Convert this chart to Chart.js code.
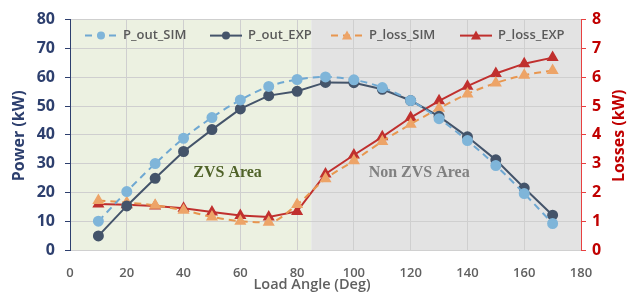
<!DOCTYPE html>
<html>
<head>
<meta charset="utf-8">
<script src="https://cdn.jsdelivr.net/npm/chart.js@4/dist/chart.umd.min.js"></script>
<style>
  html, body { margin: 0; padding: 0; background: #ffffff; }
  #wrap { width: 627px; height: 292px; position: relative; }
</style>
</head>
<body>
<div id="wrap"><canvas id="chart" width="627" height="292"></canvas></div>
<script>
// Load angle (deg)
const angles = [10, 20, 30, 40, 50, 60, 70, 80, 90, 100, 110, 120, 130, 140, 150, 160, 170];

// Power (kW), left axis
const pOutSim = [10, 20.3, 30, 38.8, 46, 52.1, 56.8, 59.2, 60.1, 59.1, 56.4, 51.9, 45.6, 38, 29.3, 19.6, 9.2];
const pOutExp = [4.9, 15.3, 24.9, 34.2, 41.8, 49, 53.6, 55.1, 58.2, 58.1, 55.8, 51.9, 46.4, 39.3, 31.3, 21.5, 12.1];

// Losses (kW), right axis
const pLossSim = [1.72, 1.65, 1.55, 1.38, 1.15, 1.0, 0.96, 1.58, 2.47, 3.1, 3.77, 4.37, 4.92, 5.42, 5.8, 6.07, 6.23];
const pLossExp = [1.6, 1.57, 1.53, 1.45, 1.32, 1.2, 1.15, 1.34, 2.64, 3.3, 3.93, 4.6, 5.18, 5.69, 6.13, 6.47, 6.68];

// ZVS boundary (deg)
const zvsLimit = 85;

const navy = "#2d3f6e";
const red = "#c00000";
const grey = "#606060";
const sans = "'Open Sans', sans-serif";

// shaded regions behind the grid + area labels
const regionPlugin = {
  id: "regions",
  beforeDraw(chart) {
    const { ctx, chartArea: a, scales } = chart;
    const xb = scales.x.getPixelForValue(zvsLimit);
    ctx.save();
    ctx.fillStyle = "#ecf1e1";
    ctx.fillRect(a.left, a.top, xb - a.left, a.bottom - a.top);
    ctx.fillStyle = "#e3e3e3";
    ctx.fillRect(xb, a.top, a.right - xb, a.bottom - a.top);
    ctx.restore();
  },
  afterDatasetsDraw(chart) {
    const { ctx, scales } = chart;
    const y = scales.y.getPixelForValue(26.8);
    ctx.save();
    ctx.font = "bold 16px 'Liberation Serif', 'DejaVu Serif', serif";
    ctx.textAlign = "center";
    ctx.textBaseline = "middle";
    ctx.fillStyle = "#4f6228";
    ctx.fillText("ZVS Area", scales.x.getPixelForValue(55.5), y);
    ctx.fillStyle = "#808080";
    ctx.fillText("Non ZVS Area", scales.x.getPixelForValue(123), y);
    ctx.restore();
  }
};

// axis titles: y titles read bottom-to-top, x title a bit left of centre
const axisTitlePlugin = {
  id: "axisTitles",
  afterDraw(chart) {
    const { ctx, chartArea: a } = chart;
    const cy = (a.top + a.bottom) / 2 + 1;
    ctx.save();
    ctx.font = "bold 16px " + sans;
    ctx.textAlign = "center";
    ctx.textBaseline = "middle";
    [[19, "Power (kW)", navy], [619, "Losses (kW)", red]].forEach(([x, t, c]) => {
      ctx.save();
      ctx.translate(x, cy);
      ctx.rotate(-Math.PI / 2);
      ctx.fillStyle = c;
      ctx.fillText(t, 0, 0);
      ctx.restore();
    });
    ctx.font = "600 14.5px " + sans;
    ctx.fillStyle = grey;
    ctx.fillText("Load Angle (Deg)", 312, 285);
    ctx.restore();
  }
};

// legend drawn inside the plot area
const legendPlugin = {
  id: "innerLegend",
  afterDraw(chart) {
    const { ctx, chartArea: a } = chart;
    const y = a.top + 16;
    const starts = [a.left + 15, a.left + 140, a.left + 261, a.left + 390];
    ctx.save();
    ctx.font = "600 13px " + sans;
    ctx.textBaseline = "middle";
    chart.data.datasets.forEach((ds, i) => {
      const x = starts[i];
      ctx.strokeStyle = ds.borderColor;
      ctx.lineWidth = 2;
      ctx.setLineDash(ds.borderDash || []);
      ctx.beginPath();
      ctx.moveTo(x, y);
      ctx.lineTo(x + 32, y);
      ctx.stroke();
      ctx.setLineDash([]);
      ctx.fillStyle = ds.pointBackgroundColor;
      ctx.beginPath();
      if (ds.pointStyle === "triangle") {
        ctx.moveTo(x + 16, y - 5);
        ctx.lineTo(x + 21, y + 4);
        ctx.lineTo(x + 11, y + 4);
        ctx.closePath();
      } else {
        ctx.arc(x + 16, y, 4, 0, Math.PI * 2);
      }
      ctx.fill();
      ctx.fillStyle = "#595959";
      ctx.fillText(ds.label, x + 38, y);
    });
    ctx.restore();
  }
};

function toPoints(ys) {
  return angles.map((a, i) => ({ x: a, y: ys[i] }));
}

new Chart(document.getElementById("chart"), {
  type: "line",
  data: {
    datasets: [
      {
        label: "P_out_SIM",
        data: toPoints(pOutSim),
        yAxisID: "y",
        borderColor: "#6fa8d2",
        pointBackgroundColor: "#7fb5d9",
        pointBorderColor: "#7fb5d9",
        borderDash: [7, 5],
        borderWidth: 2,
        pointRadius: 4.5,
        tension: 0.4,
        cubicInterpolationMode: "monotone"
      },
      {
        label: "P_out_EXP",
        data: toPoints(pOutExp),
        yAxisID: "y",
        borderColor: "#44546a",
        pointBackgroundColor: "#44546a",
        pointBorderColor: "#44546a",
        borderWidth: 2,
        pointRadius: 4.5,
        tension: 0
      },
      {
        label: "P_loss_SIM",
        data: toPoints(pLossSim),
        yAxisID: "y1",
        borderColor: "#e8964f",
        pointBackgroundColor: "#eda468",
        pointBorderColor: "#eda468",
        pointStyle: "triangle",
        borderDash: [7, 5],
        borderWidth: 2,
        pointRadius: 5,
        tension: 0.4,
        cubicInterpolationMode: "monotone"
      },
      {
        label: "P_loss_EXP",
        data: toPoints(pLossExp),
        yAxisID: "y1",
        borderColor: "#c0302e",
        pointBackgroundColor: "#c0302e",
        pointBorderColor: "#c0302e",
        pointStyle: "triangle",
        borderWidth: 2,
        pointRadius: 5,
        tension: 0
      }
    ]
  },
  options: {
    responsive: false,
    animation: false,
    layout: { padding: { top: 17, left: 0, right: 0, bottom: 0 } },
    plugins: {
      legend: { display: false },
      tooltip: { enabled: false }
    },
    scales: {
      x: {
        type: "linear",
        min: 0,
        max: 180,
        ticks: {
          stepSize: 20,
          color: grey,
          font: { family: sans, size: 13, weight: "600" },
          padding: 15
        },
        grid: { color: "#cfcfcf", drawTicks: false },
        border: { color: "#d0d0d0" },
        afterFit(s) { s.height = 42; }
      },
      y: {
        position: "left",
        min: 0,
        max: 80,
        ticks: {
          stepSize: 10,
          color: navy,
          font: { family: sans, size: 16, weight: "bold" },
          padding: 10
        },
        grid: { color: "#cfcfcf", tickLength: 5, tickColor: navy },
        border: { color: navy },
        afterFit(s) { s.width = 70; }
      },
      y1: {
        position: "right",
        min: 0,
        max: 8,
        ticks: {
          stepSize: 1,
          color: red,
          font: { family: sans, size: 16, weight: "bold" },
          padding: 6
        },
        grid: { drawOnChartArea: false, tickLength: 5, tickColor: "#e84040" },
        border: { color: "#e84040" },
        afterFit(s) { s.width = 46; }
      }
    }
  },
  plugins: [regionPlugin, axisTitlePlugin, legendPlugin]
});
</script>
</body>
</html>
